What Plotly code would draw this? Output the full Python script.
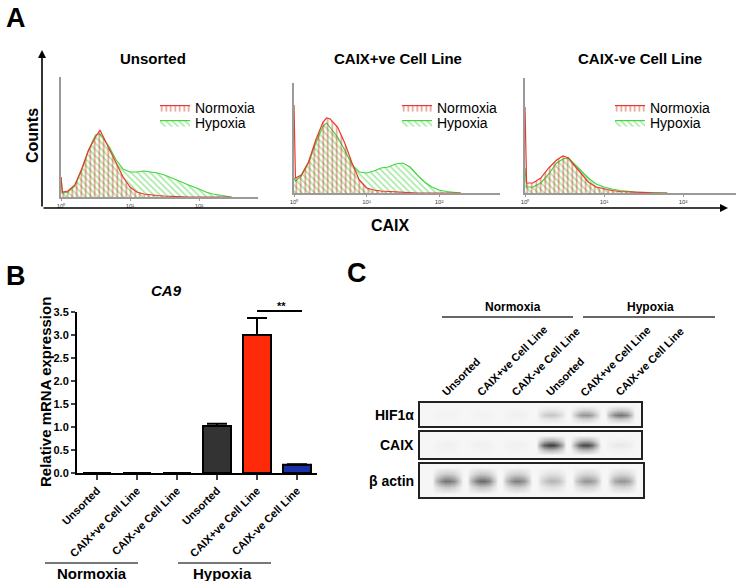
import numpy as np
import plotly.graph_objects as go

W, H = 736, 581
def px(x): return x / W
def py(y): return 1 - y / H

FONT = "Liberation Sans, Arial, Helvetica, sans-serif"
RED = "#e8392c"
GREEN = "#3fd63f"

# ---------------- Panel A data (log10 fluorescence, counts) ----------------
un_log  = [0.0, 0.02, 0.1, 0.2, 0.3, 0.4, 0.5, 0.565, 0.6, 0.7, 0.8, 0.9, 1.0, 1.1, 1.2, 1.3, 1.4, 1.5, 1.6, 1.7, 1.85, 2.0, 2.1, 2.2, 2.35, 2.47]
un_norm = [20, 5, 6, 12, 28, 47, 60, 67, 62, 48, 34, 20, 10, 5, 3, 2, 1.5, 1, 0.5, 0.3, 0, 0, 0, 0, 0, 0]
un_hyp  = [20, 4, 5, 11, 27, 47, 62, 63, 60, 50, 37, 28, 25, 25, 26, 25, 24, 22, 19, 16, 12, 8, 5, 3, 1, 0]

pos_log  = [0.0, 0.02, 0.1, 0.2, 0.3, 0.4, 0.45, 0.5, 0.6, 0.7, 0.8, 0.9, 1.0, 1.1, 1.2, 1.3, 1.4, 1.5, 1.6, 1.7, 1.8, 1.9, 2.0, 2.1, 2.2, 2.3]
pos_norm = [88, 15, 18, 31, 53, 71, 75, 74, 66, 50, 30, 13, 5, 3, 2, 1.5, 1, 0.5, 0.3, 0, 0, 0, 0, 0, 0, 0]
pos_hyp  = [15, 12, 17, 30, 50, 67, 70, 65, 56, 43, 28, 21, 20, 22, 25, 26, 29, 30, 26, 18, 11, 6, 3, 1.5, 0.5, 0]

neg_log  = [0.0, 0.02, 0.1, 0.2, 0.3, 0.4, 0.48, 0.55, 0.6, 0.7, 0.8, 0.9, 1.0, 1.1, 1.2, 1.4, 1.6, 1.8]
neg_norm = [86, 10, 10, 15, 25, 33, 37, 35, 30, 20, 11, 6, 4, 2.5, 1.5, 0.5, 0.2, 0]
neg_hyp  = [25, 6, 6, 10, 19, 30, 34, 35, 31, 23, 15, 9, 6, 4, 2.5, 1, 0.4, 0]

flow_titles = ["Unsorted", "CAIX+ve Cell Line", "CAIX-ve Cell Line"]
decade_ticks = [0, 1, 2]
decade_labels = ["10⁰", "10¹", "10²"]

# ---------------- Panel B data ----------------
mrna_labels = ["Unsorted", "CAIX+ve Cell Line", "CAIX-ve Cell Line",
               "Unsorted", "CAIX+ve Cell Line", "CAIX-ve Cell Line"]
mrna_mean = [0, 0, 0, 1.02, 3.0, 0.18]
mrna_err = [0, 0, 0, 0.05, 0.37, 0.01]
mrna_colors = ["#333333", "#333333", "#333333", "#333333", "#ff2a0a", "#1830a8"]

# ---------------- Panel C data (band intensity, 0-1) ----------------
lane_labels = ["Unsorted", "CAIX+ve Cell Line", "CAIX-ve Cell Line",
               "Unsorted", "CAIX+ve Cell Line", "CAIX-ve Cell Line"]
hif1a_band = [0.02, 0.02, 0.03, 0.22, 0.45, 0.6]
caix_band = [0.03, 0.03, 0.03, 0.85, 0.8, 0.06]
actin_band = [0.6, 0.65, 0.55, 0.3, 0.45, 0.45]
blot_names = ["HIF1α", "CAIX", "β actin"]

fig = go.Figure()

# ---- Panel A histograms ----
flow_sets = [(un_log, un_norm, un_hyp), (pos_log, pos_norm, pos_hyp), (neg_log, neg_norm, neg_hyp)]
for i, (lx, nv, hv) in enumerate(flow_sets):
    ax = "" if i == 0 else str(i + 1)
    lg_n = "legend" if i == 0 else f"legend{2*i+1}"
    lg_h = f"legend{2*i+2}"
    fig.add_trace(go.Scatter(
        x=lx, y=hv, mode="lines", name="Hypoxia", xaxis="x" + ax, yaxis="y" + ax,
        line=dict(color=GREEN, width=1.2), fill="tozeroy", fillcolor="rgba(0,0,0,0)",
        fillpattern=dict(shape="\\", fgcolor="#48d448", bgcolor="rgba(0,0,0,0)", size=4.5, solidity=0.35),
        legend=lg_h, hoverinfo="skip"))
    fig.add_trace(go.Scatter(
        x=lx, y=nv, mode="lines", name="Normoxia", xaxis="x" + ax, yaxis="y" + ax,
        line=dict(color=RED, width=1.2), fill="tozeroy", fillcolor="rgba(0,0,0,0)",
        fillpattern=dict(shape="|", fgcolor="#d43420", bgcolor="rgba(0,0,0,0)", size=4.5, solidity=0.35),
        legend=lg_n, hoverinfo="skip"))

# ---- Panel B bars ----
fig.add_trace(go.Bar(
    x=list(range(len(mrna_mean))), y=mrna_mean, xaxis="x4", yaxis="y4",
    marker=dict(color=mrna_colors, line=dict(color="black", width=2)), width=0.7,
    error_y=dict(type="data", array=mrna_err, arrayminus=[0] * 6, symmetric=False,
                 color="black", thickness=2, width=10),
    showlegend=False, hoverinfo="skip"))

# ---- Panel C blots ----
grid_x = np.arange(-0.8125, 5.69, 0.125)
grid_y = [-1.0, -0.5, 0.0, 0.5, 1.0]
vprof = [0, 0.35, 1, 0.35, 0]
for k, band in enumerate([hif1a_band, caix_band, actin_band]):
    row = []
    for gx in grid_x:
        lane = int(round(min(max(gx, 0), 5)))
        d = abs(gx - lane)
        row.append(band[lane] * max(0.0, 1 - (d / 0.42) ** 2))
    z = [[r * v for r in row] for v in vprof]
    fig.add_trace(go.Heatmap(
        x=grid_x, y=grid_y, z=z, xaxis=f"x{5+k}", yaxis=f"y{5+k}",
        zmin=0, zmax=1, zsmooth="best", showscale=False, hoverinfo="skip",
        colorscale=[[0, "#f6f6f6"], [1, "#1c1c1c"]]))

# ---------------- Layout ----------------
layout = dict(
    width=W, height=H, margin=dict(l=0, r=0, t=0, b=0, autoexpand=False),
    paper_bgcolor="white", plot_bgcolor="rgba(0,0,0,0)",
    font=dict(family=FONT, color="black"),
)

flow_dom = [((61, 258), (197, 77), 2.855, 120),
            ((294, 500), (193, 83), 2.84, 110),
            ((525, 736), (193, 78), 2.67, 115)]
leg_x = [155, 397, 610]
for i, ((x0, x1), (yb, yt), xr, yr) in enumerate(flow_dom):
    s = "" if i == 0 else str(i + 1)
    layout["xaxis" + s] = dict(domain=[px(x0), px(x1)], range=[0, xr], showline=True,
                               linecolor="#9a9a9a", linewidth=1.5, showgrid=False, zeroline=False,
                               tickvals=decade_ticks, ticktext=decade_labels, ticks="outside",
                               ticklen=2, tickcolor="#9a9a9a", tickfont=dict(size=6, color="#444"),
                               anchor="y" + s, automargin=False)
    layout["yaxis" + s] = dict(domain=[py(yb), py(yt)], range=[0, yr], showline=True,
                               linecolor="#9a9a9a", linewidth=1.5, showgrid=False, zeroline=False,
                               showticklabels=False, ticks="", anchor="x" + s, automargin=False)
    for j, yc in enumerate([108, 123]):
        name = "legend" if (i == 0 and j == 0) else f"legend{2*i+j+1}"
        layout[name] = dict(x=px(leg_x[i]), y=py(yc), xanchor="left", yanchor="middle",
                            font=dict(size=14, family=FONT), bgcolor="rgba(0,0,0,0)",
                            itemwidth=30, borderwidth=0)

layout["xaxis4"] = dict(domain=[px(77), px(317)], range=[-0.5, 5.5], anchor="y4",
                        tickvals=list(range(6)), ticktext=mrna_labels, tickangle=-45,
                        tickfont=dict(size=11, family=FONT, weight="bold"),
                        showline=True, linecolor="black", linewidth=2, ticks="outside",
                        ticklen=5, tickwidth=2, showgrid=False, zeroline=False, automargin=False)
layout["yaxis4"] = dict(domain=[py(473), py(312)], range=[0, 3.5], anchor="x4",
                        tickvals=[0, 0.5, 1, 1.5, 2, 2.5, 3, 3.5],
                        ticktext=["0.0", "0.5", "1.0", "1.5", "2.0", "2.5", "3.0", "3.5"],
                        tickfont=dict(size=11, family=FONT, weight="bold"),
                        showline=True, linecolor="black", linewidth=2, ticks="outside",
                        ticklen=4, tickwidth=2, showgrid=False, zeroline=False, automargin=False)

blot_dom = [((420, 641), (426, 403)), ((420, 641), (458, 432)), ((420, 643), (497, 464))]
for k, ((x0, x1), (yb, yt)) in enumerate(blot_dom):
    n = 5 + k
    layout[f"xaxis{n}"] = dict(domain=[px(x0), px(x1)], range=[-0.78, 5.6], anchor=f"y{n}",
                               showline=True, mirror=True, linecolor="#222", linewidth=2,
                               showticklabels=False, ticks="", showgrid=False, zeroline=False,
                               automargin=False)
    layout[f"yaxis{n}"] = dict(domain=[py(yb), py(yt)], range=[-1.25, 1.25], anchor=f"x{n}",
                               showline=True, mirror=True, linecolor="#222", linewidth=2,
                               showticklabels=False, ticks="", showgrid=False, zeroline=False,
                               automargin=False)

ann = []
def text(x, y, t, size, bold=True, italic=False, angle=0, xanchor="center", yanchor="middle", color="black", **kw):
    d = dict(xref="paper", yref="paper", x=x, y=y, text=t, showarrow=False,
             font=dict(size=size, family=FONT, color=color, weight="bold" if bold else "normal",
                       style="italic" if italic else "normal"),
             textangle=angle, xanchor=xanchor, yanchor=yanchor)
    d.update(kw)
    ann.append(d)

# Panel letters
text(px(4), py(18), "A", 27, xanchor="left")
text(px(4), py(276), "B", 27, xanchor="left")
text(px(345), py(273), "C", 27, xanchor="left")

# Panel A texts
for i, cx in enumerate([153, 398, 640]):
    text(px(cx), py(58), flow_titles[i], 15)
text(px(32), py(136), "Counts", 16, angle=-90)
text(px(390), py(225), "CAIX", 16)
# main arrows
ann.append(dict(xref="paper", yref="paper", x=px(42), y=py(50), ax=0, ay=158,
                showarrow=True, arrowhead=2, arrowsize=1, arrowwidth=1.6, arrowcolor="black", text=""))
ann.append(dict(xref="paper", yref="paper", x=px(728), y=py(208), ax=-686, ay=0,
                showarrow=True, arrowhead=2, arrowsize=1, arrowwidth=1.6, arrowcolor="black", text=""))

# Panel B texts
text(px(166), py(290), "CA9", 15, italic=True)
text(px(45), py(392), "Relative mRNA expression", 15, angle=-90)
text(px(281), py(306), "**", 11)
text(px(92), py(573), "Normoxia", 15)
text(px(222), py(573), "Hypoxia", 15)

# Panel C texts
text(px(513), py(307), "Normoxia", 12)
text(px(650), py(307), "Hypoxia", 12)
for i, lab in enumerate(lane_labels):
    ann.append(dict(xref="x5", yref="paper", x=i - 0.3, y=py(401), text=lab, showarrow=False,
                    textangle=-45, xanchor="left", yanchor="bottom",
                    font=dict(size=11, family=FONT, weight="bold")))
for name, yc in zip(blot_names, [415, 445, 481]):
    text(px(416), py(yc), name, 14, xanchor="right")

layout["annotations"] = ann

shapes = []
def hline(x0, x1, y, color, width):
    shapes.append(dict(type="line", xref="paper", yref="paper", x0=px(x0), x1=px(x1),
                       y0=py(y), y1=py(y), line=dict(color=color, width=width)))
hline(257, 302, 311, "black", 2)
hline(45, 138, 563, "#777777", 2)
hline(178, 271, 563, "#777777", 2)
hline(442, 573, 317, "#333333", 1.5)
hline(583, 715, 317, "#333333", 1.5)
layout["shapes"] = shapes

fig.update_layout(**layout)
fig.write_html("out.html", config={"displayModeBar": False},
               post_script="document.body.style.margin='0';")
